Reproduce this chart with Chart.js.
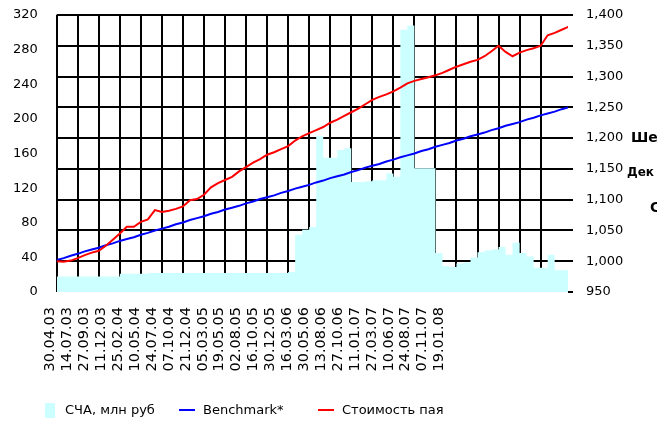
<!DOCTYPE html>
<html lang="ru">
<head>
<meta charset="utf-8">
<title>СЧА, Benchmark и стоимость пая</title>
<script src="https://cdn.jsdelivr.net/npm/chart.js@4.4.1/dist/chart.umd.min.js"></script>
<style>
  html, body { margin: 0; padding: 0; background: #fff; overflow: hidden; }
  #wrap { position: relative; width: 657px; height: 421px; overflow: hidden; font-family: 'DejaVu Sans', sans-serif; color: #000; }
  #chart { position: absolute; left: 0; top: 0; }
  .side { position: absolute; font-weight: bold; white-space: nowrap; line-height: 1; }
  .leg { position: absolute; font-size: 13px; white-space: nowrap; line-height: 1; }
  .mark { position: absolute; }
</style>
</head>
<body>
<div id="wrap">
  <canvas id="chart" width="657" height="421"></canvas>

  <!-- text cut off at the right edge of the original picture -->
  <div class="side" style="left:631px; top:130px; font-size:14px;">Ше</div>
  <div class="side" style="left:627px; top:166px; font-size:12px;">Дек</div>
  <div class="side" style="left:650px; top:200px; font-size:14px;">С</div>

  <div id="legend"></div>
</div>

<script>
// x tick labels (one per step on the label axis)
const dateLabels = ['30.04.03', '14.07.03', '27.09.03', '11.12.03', '25.02.04', '10.05.04',
  '24.07.04', '07.10.04', '21.12.04', '05.03.05', '19.05.05', '02.08.05',
  '16.10.05', '30.12.05', '16.03.06', '30.05.06', '13.08.06', '27.10.06',
  '11.01.07', '27.03.07', '10.06.07', '24.08.07', '07.11.07', '19.01.08'];

const navTicks = [0, 40, 80, 120, 160, 200, 240, 280, 320];
const priceTicks = [950, 1000, 1050, 1100, 1150, 1200, 1250, 1300, 1350, 1400];

// СЧА, млн руб (left axis), 3 readings per grid column
const navValues = [
  18, 18, 18, 18, 18, 18, 18, 18, 18, 21,
  21, 21, 21, 22, 22, 22, 22, 22, 22, 22,
  22, 22, 22, 22, 22, 22, 22, 22, 22, 22,
  22, 22, 22, 23, 66, 72, 75, 180, 155, 155,
  164, 166, 127, 127, 128, 129, 129, 137, 133, 303,
  308, 143, 143, 143, 45, 30, 29, 33, 34, 40,
  46, 48, 49, 52, 43, 57, 45, 41, 28, 28,
  43, 25, 25, 25
];

// Benchmark* (right axis)
const benchmarkValues = [
  1002, 1005, 1009, 1012, 1016, 1019, 1022, 1026, 1029, 1033,
  1036, 1039, 1043, 1046, 1050, 1053, 1056, 1060, 1063, 1067,
  1070, 1073, 1077, 1080, 1084, 1087, 1090, 1094, 1097, 1101,
  1104, 1107, 1111, 1114, 1118, 1121, 1124, 1128, 1131, 1135,
  1138, 1141, 1145, 1148, 1152, 1155, 1158, 1162, 1165, 1169,
  1172, 1175, 1179, 1182, 1186, 1189, 1192, 1196, 1199, 1203,
  1206, 1209, 1213, 1216, 1220, 1223, 1226, 1230, 1233, 1237,
  1240, 1243, 1247, 1250
];

// Стоимость пая (right axis)
const unitValues = [
  1000, 999, 1001, 1005, 1010, 1014, 1017, 1025, 1035, 1045,
  1056, 1056, 1064, 1068, 1083, 1080, 1082, 1085, 1089, 1099,
  1101, 1108, 1120, 1127, 1132, 1137, 1146, 1153, 1160, 1166,
  1173, 1177, 1182, 1187, 1196, 1203, 1208, 1213, 1218, 1225,
  1230, 1236, 1242, 1248, 1255, 1262, 1267, 1271, 1276, 1282,
  1289, 1293, 1296, 1299, 1302, 1306, 1311, 1316, 1320, 1324,
  1327, 1333, 1341, 1350, 1340, 1333, 1339, 1343, 1346, 1350,
  1367, 1371, 1376, 1381
];

const READINGS_PER_COLUMN = 3;
const GRID_COLUMNS = 24.3;     // width of the plot in grid columns
const LABEL_COLUMNS = 30.25;   // width of the plot in label steps

const NAV_COLOR = '#ccffff';
const BENCH_COLOR = '#0000ff';
const UNIT_COLOR = '#ff0000';

Chart.defaults.font.family = "'DejaVu Sans', sans-serif";
Chart.defaults.font.size = 13;
Chart.defaults.color = '#000';

const toPoints = arr => arr.map((v, i) => ({ x: i / READINGS_PER_COLUMN, y: v }));

// fixed axis box, without the extra room chart.js keeps for the end labels
const fixWidth = w => s => { s.width = w; s.paddingTop = 0; s.paddingBottom = 0; };

const chart = new Chart(document.getElementById('chart'), {
    type: 'line',
    data: {
        datasets: [
            {
                label: 'Стоимость пая',
                data: toPoints(unitValues),
                yAxisID: 'y1',
                borderColor: UNIT_COLOR,
                borderWidth: 2,
                pointRadius: 0,
                order: 1
            },
            {
                label: 'Benchmark*',
                data: toPoints(benchmarkValues),
                yAxisID: 'y1',
                borderColor: BENCH_COLOR,
                borderWidth: 2,
                pointRadius: 0,
                order: 2
            },
            {
                label: 'СЧА, млн руб',
                data: toPoints(navValues),
                yAxisID: 'y',
                stepped: true,
                fill: 'origin',
                backgroundColor: NAV_COLOR,
                borderColor: NAV_COLOR,
                borderWidth: 0,
                pointRadius: 0,
                order: 3
            }
        ]
    },
    options: {
        responsive: false,
        animation: false,
        events: [],
        layout: { padding: { top: 15 } },
        plugins: {
            legend: { display: false },
            tooltip: { enabled: false }
        },
        scales: {
            // grid columns
            x: {
                type: 'linear',
                position: 'top',
                min: 0,
                max: GRID_COLUMNS,
                ticks: { display: false, stepSize: 1 },
                grid: {
                    color: c => (Number.isInteger(c.tick.value) && c.tick.value < dateLabels.length) ? '#000' : 'rgba(0,0,0,0)',
                    lineWidth: 2,
                    drawTicks: false
                },
                border: { display: false },
                afterFit: s => { s.height = 0; }
            },
            // date labels
            xl: {
                type: 'linear',
                position: 'bottom',
                min: 0,
                max: LABEL_COLUMNS,
                ticks: {
                    stepSize: 1,
                    autoSkip: false,
                    minRotation: 90,
                    maxRotation: 90,
                    labelOffset: -6,
                    padding: 15,
                    font: { size: 14.5 },
                    callback: v => Number.isInteger(v) ? (dateLabels[v] || '') : ''
                },
                grid: { display: false, drawTicks: false },
                border: { display: false },
                afterFit: s => { s.height = 129; }
            },
            y: {
                position: 'left',
                min: 0,
                max: 320,
                afterBuildTicks: s => { s.ticks = navTicks.map(v => ({ value: v })); },
                ticks: { padding: 19 },
                grid: { display: false, drawTicks: false },
                border: { display: false },
                afterFit: fixWidth(56.7)
            },
            y1: {
                position: 'right',
                min: 950,
                max: 1400,
                afterBuildTicks: s => { s.ticks = priceTicks.map(v => ({ value: v })); },
                ticks: {
                    padding: 13,
                    callback: v => v.toLocaleString('en-US')
                },
                grid: {
                    color: c => c.tick.value === priceTicks[0] ? 'rgba(0,0,0,0)' : '#000',
                    tickColor: '#000',
                    lineWidth: 2,
                    tickLength: 5
                },
                border: { display: false },
                afterFit: fixWidth(89)
            }
        }
    }
});

// legend under the chart
const legendItems = [
    { text: 'СЧА, млн руб', color: NAV_COLOR, kind: 'box', left: 45 },
    { text: 'Benchmark*', color: BENCH_COLOR, kind: 'line', left: 179 },
    { text: 'Стоимость пая', color: UNIT_COLOR, kind: 'line', left: 318 }
];
const legend = document.getElementById('legend');
legendItems.forEach(function(item) {
    const mark = document.createElement('div');
    mark.className = 'mark';
    mark.style.background = item.color;
    if (item.kind === 'box') {
        mark.style.cssText += 'left:' + item.left + 'px;top:403px;width:10px;height:15px;';
    } else {
        mark.style.cssText += 'left:' + item.left + 'px;top:409px;width:16px;height:2px;';
    }
    legend.appendChild(mark);

    const label = document.createElement('div');
    label.className = 'leg';
    label.textContent = item.text;
    label.style.left = (item.left + (item.kind === 'box' ? 20 : 24)) + 'px';
    label.style.top = '403px';
    legend.appendChild(label);
});
</script>
</body>
</html>
